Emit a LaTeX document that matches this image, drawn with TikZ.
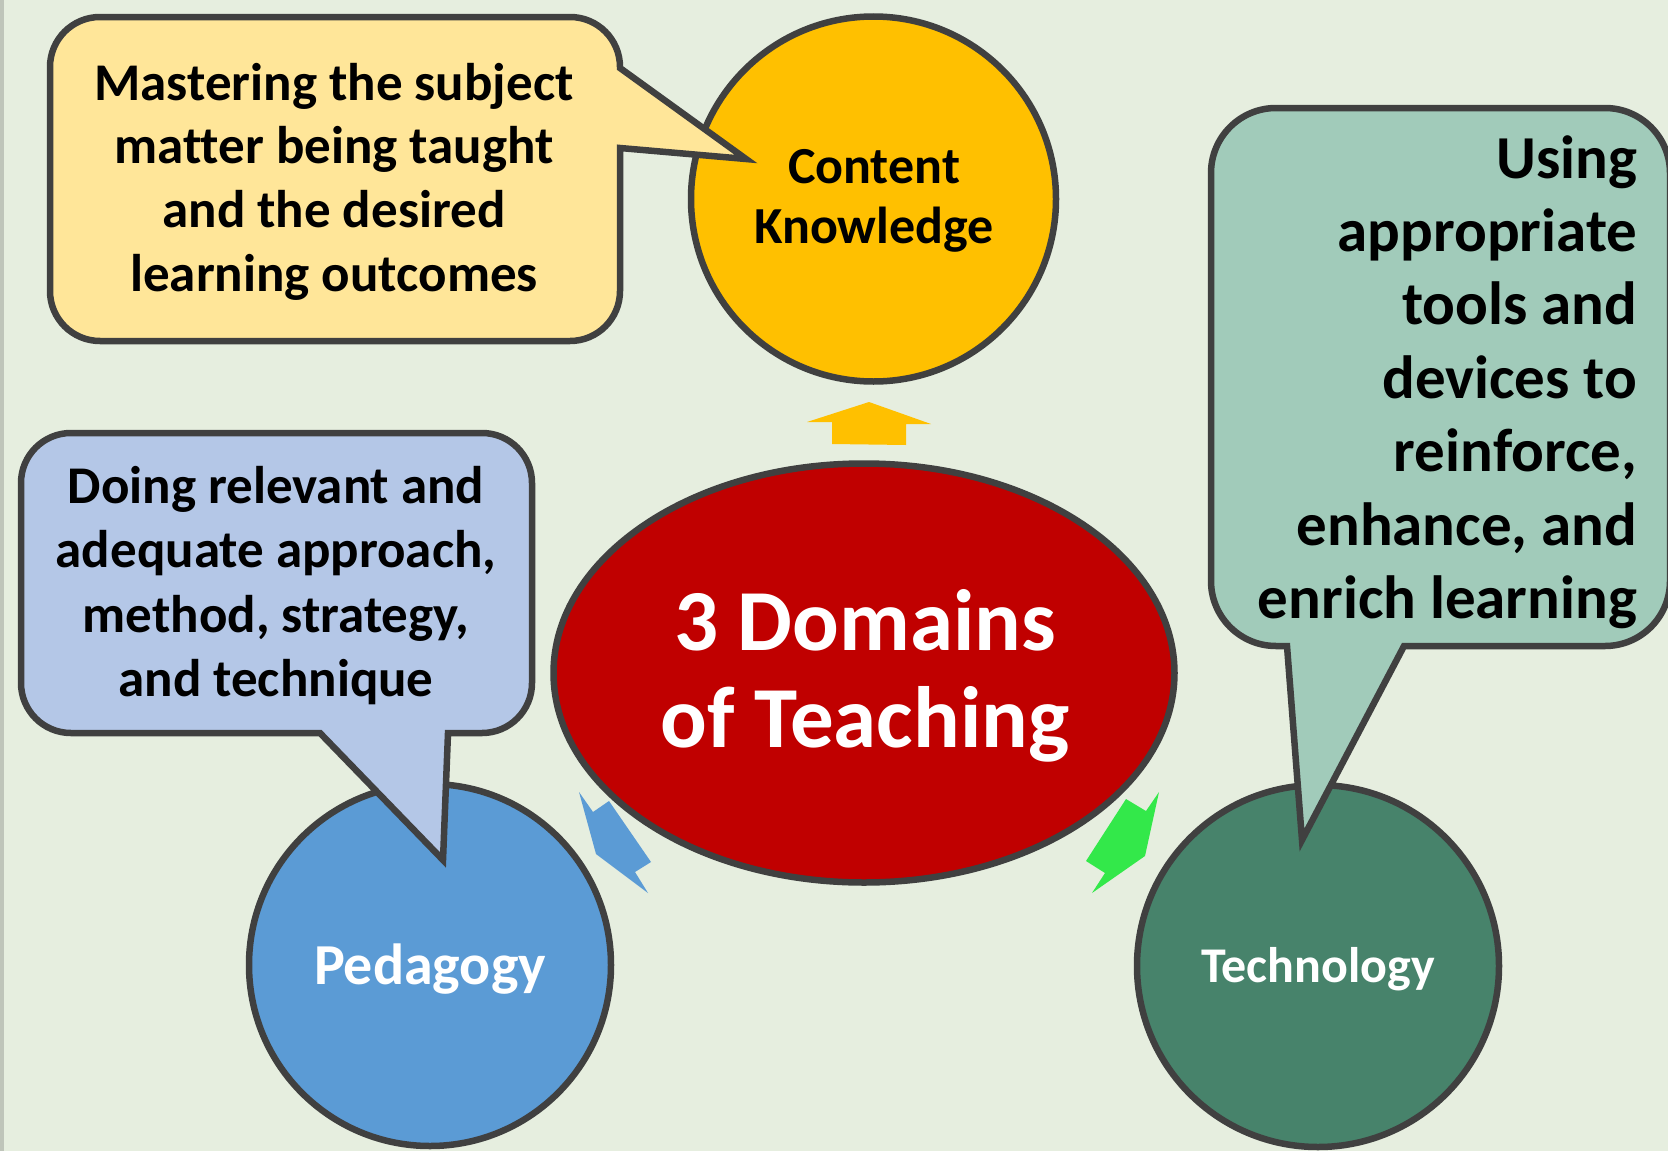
\documentclass[tikz,border=0pt]{standalone}
\usepackage{fontspec}
\setmainfont{Carlito}[Ligatures=NoCommon]
\usetikzlibrary{shapes.geometric}
\definecolor{bg}{HTML}{E6EEDF}
\definecolor{edgegray}{HTML}{404040}
\definecolor{leftgray}{HTML}{BFC5BA}
\definecolor{ckyellow}{HTML}{FFC000}
\definecolor{calyellow}{HTML}{FFE699}
\definecolor{domred}{HTML}{C00000}
\definecolor{pedblue}{HTML}{5B9BD5}
\definecolor{calblue}{HTML}{B4C7E7}
\definecolor{techgreen}{HTML}{47836B}
\definecolor{calteal}{HTML}{A1CBBA}
\definecolor{arrgreen}{HTML}{33E84A}
\begin{document}
\begin{tikzpicture}[x=1pt,y=1pt,yscale=-1,
  outline/.style={draw=edgegray, line width=6.5pt},
  txt/.style={inner sep=0pt, outer sep=0pt, anchor=base},
  bodytext/.style={txt, font=\bfseries\fontsize{53}{63}\selectfont},
  tealtext/.style={txt, anchor=base east, font=\bfseries\fontsize{61}{73}\selectfont},
  cktext/.style={txt, font=\bfseries\fontsize{52}{60}\selectfont},
  bigtext/.style={txt, text=white, font=\bfseries\fontsize{87}{97}\selectfont},
  pedtext/.style={txt, text=white, font=\bfseries\fontsize{58}{68}\selectfont},
  techtext/.style={txt, text=white, font=\bfseries\fontsize{50}{60}\selectfont}]
\useasboundingbox (0,0) rectangle (1668,1151);
\begin{scope}
\clip (0,0) rectangle (1668,1151);
\fill[bg] (0,0) rectangle (1668,1151);
\fill[leftgray] (0,0) rectangle (4,1151);

% circles and central ellipse
\node[circle, outline, fill=ckyellow, minimum size=365pt, inner sep=0pt] (ck) at (873.5,199) {};
\node[ellipse, outline, fill=domred, minimum width=621pt, minimum height=419pt, inner sep=0pt] (dom) at (864,673) {};
\node[circle, outline, fill=pedblue, minimum size=362pt, inner sep=0pt] (ped) at (430,965) {};
\node[circle, outline, fill=techgreen, minimum size=362pt, inner sep=0pt] (tech) at (1318,966) {};

% block arrows
\fill[ckyellow] (807,422) -- (869,402) -- (931,424) -- (906,424) -- (906,445) -- (832,444) -- (832,422) -- cycle;
\fill[pedblue] (579,792) -- (593,812) -- (609,801) -- (651,862) -- (635,872) -- (648,893) -- (596,854) -- cycle;
\fill[arrgreen] (1159,792) -- (1146,811) -- (1126,799) -- (1086,861) -- (1105,873) -- (1092,893) -- (1145,856) -- cycle;

% yellow callout
\draw[outline, fill=calyellow] (100,17) -- (570,17) arc[start angle=-90, end angle=0, radius=50]
  -- (620,68) -- (746,159) -- (620,148) -- (620,291) arc[start angle=0, end angle=90, radius=50]
  -- (100,341) arc[start angle=90, end angle=180, radius=50]
  -- (50,67) arc[start angle=180, end angle=270, radius=50] -- cycle;

% blue callout
\draw[outline, fill=calblue] (71,433) -- (482,433) arc[start angle=-90, end angle=0, radius=50]
  -- (532,683) arc[start angle=0, end angle=90, radius=50]
  -- (448,733) -- (443,860) -- (320,733)
  -- (71,733) arc[start angle=90, end angle=180, radius=50]
  -- (21,483) arc[start angle=180, end angle=270, radius=50] -- cycle;

% teal callout
\draw[outline, fill=calteal] (1276,108) -- (1605,108) arc[start angle=-90, end angle=0, radius=65]
  -- (1670,581) arc[start angle=0, end angle=90, radius=65]
  -- (1404,646) -- (1302,840) -- (1287,646)
  -- (1276,646) arc[start angle=90, end angle=180, radius=65]
  -- (1211,173) arc[start angle=180, end angle=270, radius=65] -- cycle;
\end{scope}

% texts
\foreach \t [count=\i] in {Mastering the subject, matter being taught, and the desired, learning outcomes}
  \node[bodytext] (ytxt\i) at (334,{100+63.7*(\i-1)}) {\t};
\foreach \t [count=\i] in {{Doing relevant and}, {adequate approach,}, {method, strategy,}, {and technique}}
  \node[bodytext] (btxt\i) at (276,{503+64.6*(\i-1)}) {\t};
\foreach \t [count=\i] in {{Using}, {appropriate}, {tools and}, {devices to}, {reinforce,}, {enhance, and}, {enrich learning}}
  \node[tealtext] (ttxt\i) at (1637,{178+73.4*(\i-1)}) {\t};
\node[cktext] (cktxt1) at (874,183) {Content};
\node[cktext] (cktxt2) at (874,243) {Knowledge};
\node[bigtext] (domtxt1) at (865,650) {3 Domains};
\node[bigtext] (domtxt2) at (865,747) {of Teaching};
\node[pedtext] (pedtxt) at (430,984) {Pedagogy};
\node[techtext] (techtxt) at (1318,982) {Technology};
\end{tikzpicture}
\end{document}
